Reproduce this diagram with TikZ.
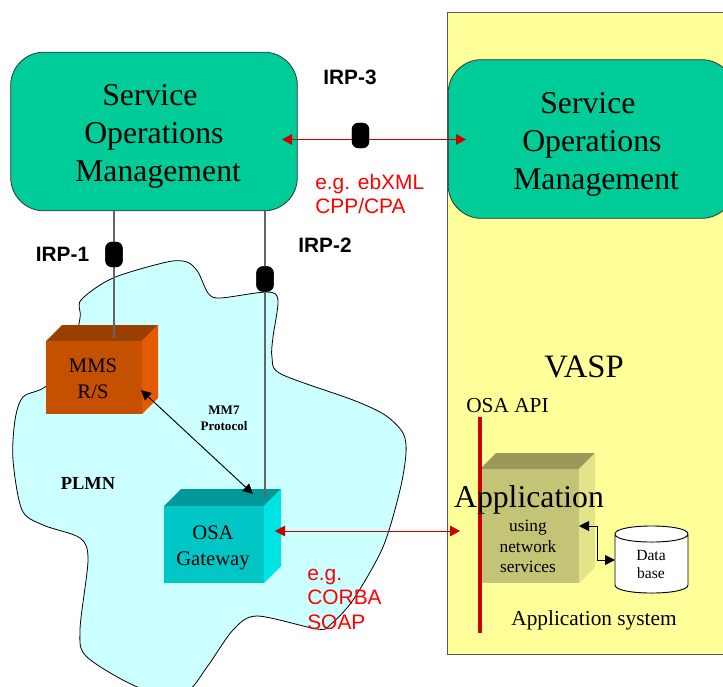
\documentclass[tikz,border=0pt]{standalone}
\usepackage{fontspec}
\setmainfont{Liberation Serif}
\newfontfamily\arialf{Liberation Sans}
\usetikzlibrary{arrows.meta}
\definecolor{somgreen}{HTML}{00CC99}
\definecolor{vaspyellow}{HTML}{FFFF99}
\definecolor{plmncyan}{HTML}{CCFFFF}
\definecolor{redline}{HTML}{CC0000}
\definecolor{txtred}{HTML}{FF0000}
\definecolor{mmsfront}{HTML}{C45000}
\definecolor{mmstop}{HTML}{993F00}
\definecolor{mmsside}{HTML}{E35B00}
\definecolor{osafront}{HTML}{00C6C6}
\definecolor{osatop}{HTML}{009999}
\definecolor{osaside}{HTML}{00E3E3}
\definecolor{appfront}{HTML}{C4C476}
\definecolor{apptop}{HTML}{99995C}
\definecolor{appside}{HTML}{E3E389}
\tikzset{
  x=0.75pt,y=-0.75pt,
  som/.style={draw=black!80,fill=somgreen,rounded corners=25pt,line width=0.6pt,minimum width=215pt,minimum height=119pt,inner sep=0pt},
  somtext/.style={inner sep=0pt,align=left,anchor=west,font=\fontsize{23.8}{28.5}\selectfont},
  irplabel/.style={font=\arialf\bfseries\fontsize{15.6}{18}\selectfont,inner sep=0pt},
  redtext/.style={font=\arialf\fontsize{15.7}{18.3}\selectfont,text=txtred,align=left,anchor=north west,inner sep=0pt},
  conn/.style={draw=black!60,line width=0.9pt},
  plug/.style={fill=black,draw=none,rounded corners=5pt,minimum width=13pt,minimum height=19pt,inner sep=0pt},
  redarrow/.style={draw=redline,line width=0.7pt,{Triangle[length=7.5pt,width=8pt,fill=redline]}-{Triangle[length=7.5pt,width=8pt,fill=redline]}},
  blkarrow/.style={draw=black,line width=0.7pt,{Triangle[length=7.5pt,width=7.5pt]}-{Triangle[length=7.5pt,width=7.5pt]}},
  boxtext/.style={align=center,inner sep=0pt,font=\fontsize{15.5}{19.2}\selectfont},
  plain/.style={inner sep=0pt,align=center}
}
\newcommand{\cuboidtop}[7]{% x0 y0 x1 y1 depth top side
  \fill[#6] (#1,#2) -- ({#1+#5},{#2-#5}) -- ({#3+#5},{#2-#5}) -- (#3,#2) -- cycle;
  \fill[#7] (#3,#2) -- ({#3+#5},{#2-#5}) -- ({#3+#5},{#4-#5}) -- (#3,#4) -- cycle;
}
\begin{document}
\begin{tikzpicture}
\useasboundingbox (0,0) rectangle (723,686);
\begin{scope}
\clip (0,0) rectangle (723,686);
\draw[fill=vaspyellow,draw=black!65,line width=0.7pt] (447.5,12.5) rectangle (740,654);
\draw[fill=plmncyan,draw=black,line width=0.6pt] plot[smooth cycle,tension=0.5] coordinates {
 (80,318) (81,300) (113,278) (167,262) (187,262) (198,272) (208,293) (220,298) (267,292) (278,300)
 (273,337) (272,357) (281,374) (353,400) (385,415) (403,433) (406,453) (400,490) (383,547) (353,600) (330,625) (317,629) (257,616)
 (233,630) (207,667) (185,692) (140,688) (87,657) (80,630) (88,560) (80,538) (43,525) (22,510) (13,460) (15,420)
 (23,397) (45,387) (70,360)};
\node[som] (somL) at (154,131.5) {};
\node[som] (somR) at (591.5,139) {};

% 3D boxes
\cuboidtop{46}{341}{142}{414}{16}{mmstop}{mmsside}
\node[fill=mmsfront,minimum width=72pt,minimum height=54.75pt,inner sep=0pt] (mms) at (94,377.5) {};
\cuboidtop{164}{506}{264}{583}{17}{osatop}{osaside}
\node[fill=osafront,minimum width=75pt,minimum height=57.75pt,inner sep=0pt] (osa) at (214,544.5) {};
\cuboidtop{480}{469}{579}{583}{16}{apptop}{appside}
\node[fill=appfront,minimum width=74.25pt,minimum height=85.5pt,inner sep=0pt] (app) at (529.5,526) {};

% Plugs and free ends
\node[plug] (plugA) at (114,254.5) {};
\node[plug] (plugB) at (265,279) {};
\node[plug] (plugC) at (360.5,135.5) {};
\coordinate (mmsend) at (114,338);
\coordinate (osaend) at (265,497);

% Connectors
\draw[conn] (plugA |- somL.south) -- (plugA.center) -- (mmsend);
\draw[conn] (plugB |- somL.south) -- (plugB.center) -- (osaend);
\node[plug] at (plugA) {};
\node[plug] at (plugB) {};

\coordinate (somLtip) at (282,139.5);
\coordinate (somRtip) at (466,139.5);
\draw[redarrow] (somLtip) -- (somRtip);
\node[plug] at (plugC) {};

\coordinate (mmstip) at (141,390);
\coordinate (osatip) at (253,494);
\draw[blkarrow] (mmstip) -- (osatip);

\coordinate (osared) at (275,531);
\coordinate (apired) at (460,531);
\draw[redarrow] (osared) -- (apired);

% Red OSA API bar
\coordinate (bartop) at (480,417);
\coordinate (barbot) at (480,633);
\draw[draw=redline,line width=2.8pt] (bartop) -- (barbot);

% Database
\draw[fill=white,draw=black,line width=0.7pt] (615,534) -- (615,585) .. controls (615,595.7) and (688,595.7) .. (688,585) -- (688,534) .. controls (688,523.3) and (615,523.3) .. (615,534) .. controls (615,544.7) and (688,544.7) .. (688,534);
\coordinate (apptip) at (579,526);
\coordinate (dbtip) at (615,560);
\draw[blkarrow] (apptip) -- (597,526) -- (597,560) -- (dbtip);

% Texts
\node[somtext] (somLt) at (75,136.5) {\hspace*{20.25pt}Service\\\hspace*{6.75pt}Operations\\Management};
\node[somtext] (somRt) at (513,144) {\hspace*{20.25pt}Service\\\hspace*{6.75pt}Operations\\Management};
\node[irplabel] (irp3) at (350,77) {IRP-3};
\node[irplabel] (irp1) at (62.5,254) {IRP-1};
\node[irplabel] (irp2) at (325,245) {IRP-2};
\node[redtext] (ebxml) at (315,174) {e.g. ebXML\\CPP/CPA};
\node[redtext] (corba) at (307,569) {e.g.\\CORBA\\SOAP};
\node[boxtext] (mmst) at (93,379) {MMS\\R/S};
\node[boxtext] (osat) at (213,548) {OSA\\Gateway};
\node[plain,font=\bfseries\fontsize{9.8}{12}\selectfont] (mm7) at (224,418) {MM7\\Protocol};
\node[plain,font=\bfseries\fontsize{13.8}{16}\selectfont] (plmn) at (88,483) {PLMN};
\node[plain,font=\fontsize{24.5}{28}\selectfont] (vasp) at (584,367) {VASP};
\node[plain,font=\fontsize{16}{19}\selectfont] (osaapi) at (507.5,406) {OSA API};
\node[plain,font=\fontsize{23.8}{28}\selectfont] (appt) at (529,500) {Application};
\node[plain,font=\fontsize{13}{15.4}\selectfont] (using) at (528,546.5) {using\\network\\services};
\node[plain,font=\fontsize{11.7}{14}\selectfont] (dbt) at (651,564.5) {Data\\base};
\node[plain,font=\fontsize{16}{19}\selectfont] (appsys) at (594,620) {Application system};
\end{scope}
\end{tikzpicture}
\end{document}
